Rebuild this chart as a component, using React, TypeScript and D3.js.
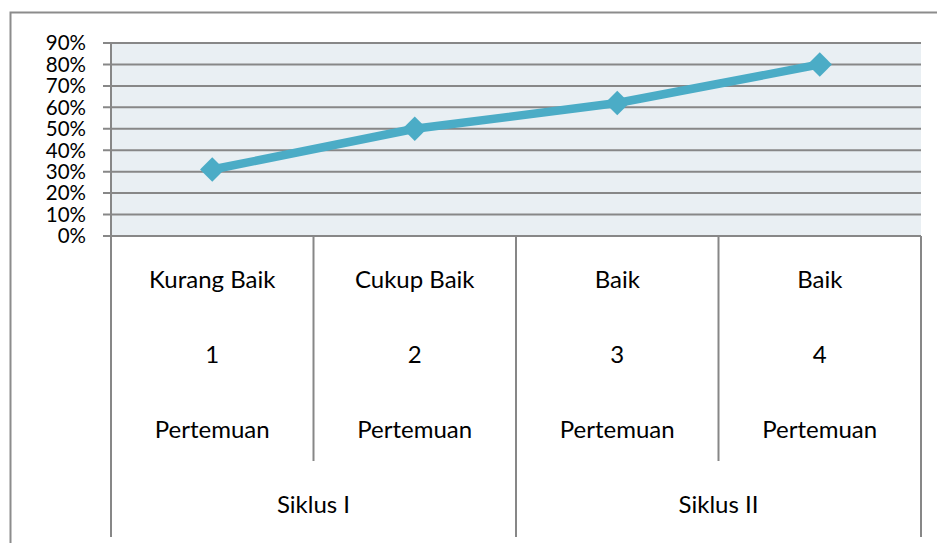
import * as d3 from 'd3'

// values
const cycles = ['Siklus I', 'Siklus II']
const meetings = ['1', '2', '3', '4']
const meetingCycle = ['Siklus I', 'Siklus I', 'Siklus II', 'Siklus II']
const ratings = ['Kurang Baik', 'Cukup Baik', 'Baik', 'Baik']
const scores = [0.31, 0.5, 0.62, 0.8]
const yTicks = [0, 0.1, 0.2, 0.3, 0.4, 0.5, 0.6, 0.7, 0.8, 0.9]

const W = 937
const H = 543
const plot = {left: 111, right: 921, top: 43, bottom: 236}
const gridColor = '#878787'
const lineColor = '#4BACC6'
const font = 'Lato, "Open Sans", sans-serif'

export default function App() {
    const x = d3.scaleBand().domain(meetings).range([plot.left, plot.right])
    const y = d3.scaleLinear().domain([0, 0.9]).range([plot.bottom, plot.top])
    const fmt = d3.format('.0%')

    const line = d3.line<number>()
        .x((d, i) => x(meetings[i])! + x.bandwidth() / 2)
        .y(d => y(d))

    const diamond = d3.symbol().type(d3.symbolDiamond2).size(380)()

    // group spans for the second axis level
    const groups = cycles.map(c => {
        const ms = meetings.filter((m, i) => meetingCycle[i] === c)
        const x0 = x(ms[0])!
        const x1 = x(ms[ms.length - 1])! + x.bandwidth()
        return {name: c, x0, x1}
    })

    return (
        <svg width={W} height={H} style={{position: 'absolute', left: 0, top: 0, background: '#fff'}}
             fontFamily={font}>
            {/* chart border */}
            <path d={`M10.5,${H} V12.5 H${W}`} fill="none" stroke="#8c8c8c" strokeWidth={2}/>
            <rect x={plot.left} y={plot.top} width={plot.right - plot.left} height={plot.bottom - plot.top}
                  fill="#E9EFF3"/>
            {yTicks.map(t => (
                <g key={t}>
                    <line x1={plot.left - 8} x2={plot.right} y1={y(t)} y2={y(t)}
                          stroke={gridColor} strokeWidth={2}/>
                    <text x={86} y={y(t)} dy="0.36em" textAnchor="end" fontSize={20.5} fill="#000">{fmt(t)}</text>
                </g>
            ))}
            <line x1={plot.left} x2={plot.left} y1={plot.top} y2={plot.bottom} stroke={gridColor} strokeWidth={2}/>

            {/* category axis, level 1 */}
            {meetings.map((m, i) => {
                const cx = x(m)! + x.bandwidth() / 2
                return (
                    <g key={m}>
                        <text x={cx} y={279} dy="0.36em" textAnchor="middle" fontSize={24}>{ratings[i]}</text>
                        <text x={cx} y={354} dy="0.36em" textAnchor="middle" fontSize={24}>{m}</text>
                        <text x={cx} y={429} dy="0.36em" textAnchor="middle" fontSize={24}>Pertemuan</text>
                    </g>
                )
            })}
            {meetings.slice(1).map(m => (
                <line key={m} x1={x(m)} x2={x(m)} y1={plot.bottom} y2={461} stroke={gridColor} strokeWidth={2}/>
            ))}
            {/* level 2 */}
            {groups.map(g => (
                <text key={g.name} x={(g.x0 + g.x1) / 2} y={504} dy="0.36em" textAnchor="middle"
                      fontSize={24}>{g.name}</text>
            ))}
            {[groups[0].x0, ...groups.map(g => g.x1)].map(v => (
                <line key={v} x1={v} x2={v} y1={plot.bottom} y2={537} stroke={gridColor} strokeWidth={2}/>
            ))}

            {/* series */}
            <path d={line(scores) ?? ''} fill="none" stroke={lineColor} strokeWidth={8.5} strokeLinejoin="round"/>
            {scores.map((s, i) => (
                <path key={i} d={diamond ?? ''} fill={lineColor}
                      transform={`translate(${x(meetings[i])! + x.bandwidth() / 2},${y(s)})`}/>
            ))}
        </svg>
    )
}
